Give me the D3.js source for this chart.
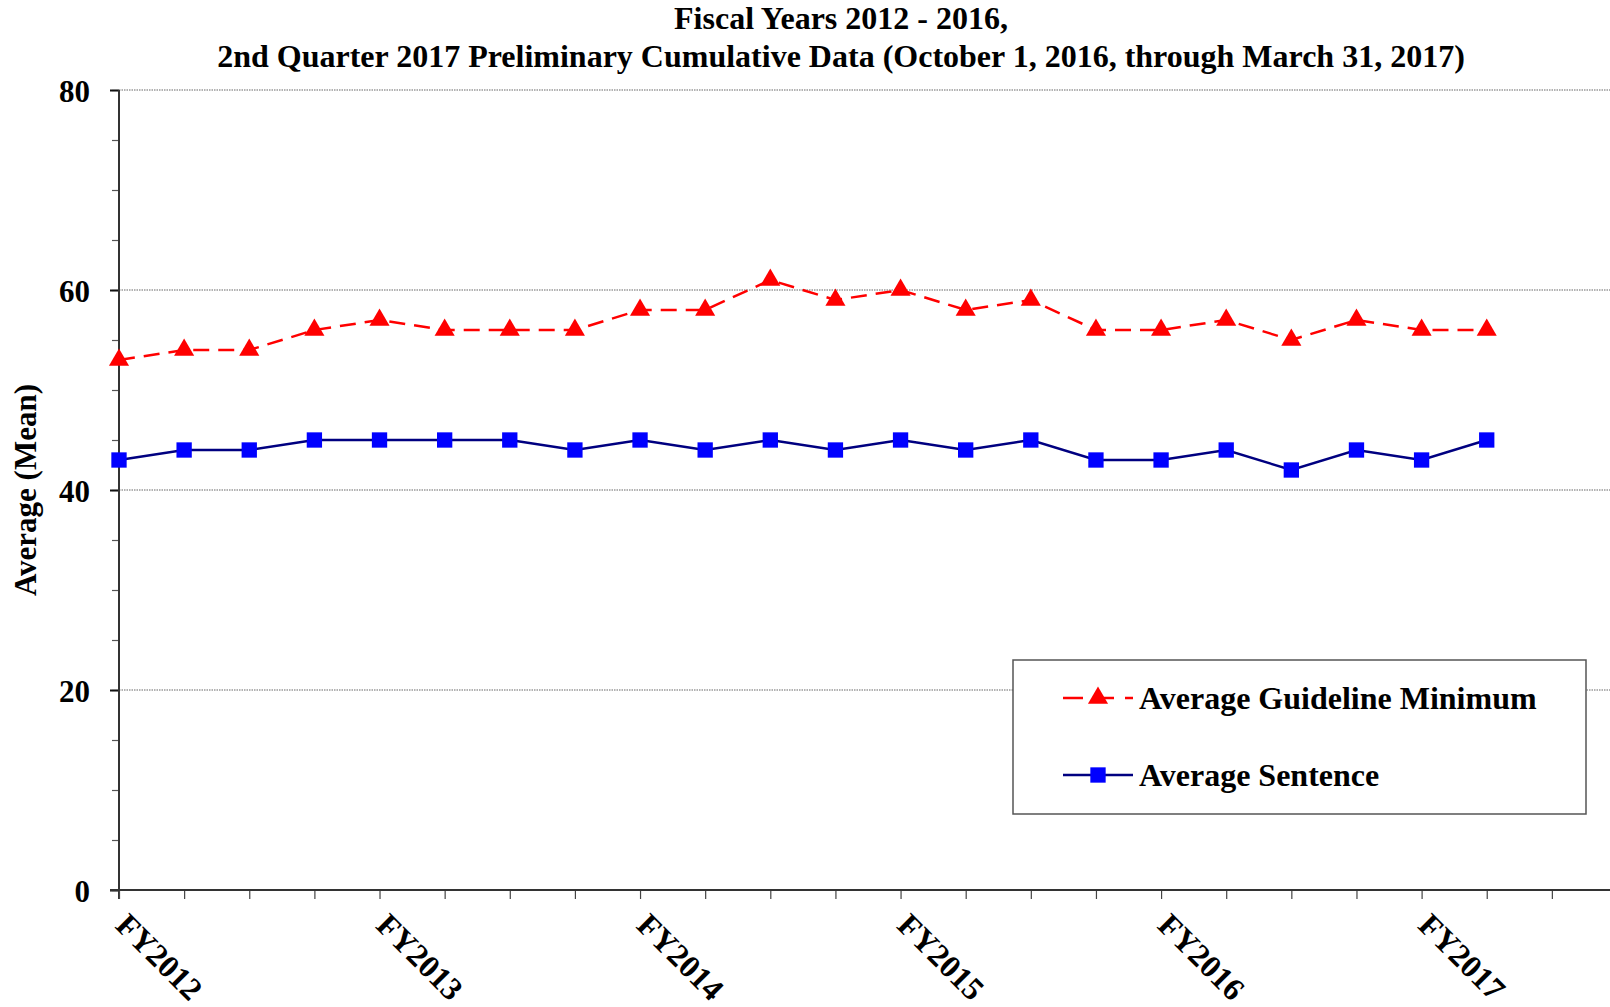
<!DOCTYPE html>
<html>
<head>
<meta charset="utf-8">
<script src="https://cdn.jsdelivr.net/npm/d3@7"></script>
<style>
  body { margin: 0; background: #fff; }
  text { font-family: "Liberation Serif", "Times New Roman", serif; font-weight: bold; fill: #000; }
</style>
</head>
<body>
<div id="chart"></div>
<script>
/////////////////////
// chart data      //
/////////////////////

let titleLines = [
    "Fiscal Years 2012 - 2016,",
    "2nd Quarter 2017 Preliminary Cumulative Data (October 1, 2016, through March 31, 2017)"
];
let quarters = ["FY2012 Q1", "FY2012 Q2", "FY2012 Q3", "FY2012 Q4",
    "FY2013 Q1", "FY2013 Q2", "FY2013 Q3", "FY2013 Q4",
    "FY2014 Q1", "FY2014 Q2", "FY2014 Q3", "FY2014 Q4",
    "FY2015 Q1", "FY2015 Q2", "FY2015 Q3", "FY2015 Q4",
    "FY2016 Q1", "FY2016 Q2", "FY2016 Q3", "FY2016 Q4",
    "FY2017 Q1", "FY2017 Q2"];
let guidelineMin = [53, 54, 54, 56, 57, 56, 56, 56, 58, 58, 61, 59, 60, 58, 59, 56, 56, 57, 55, 57, 56, 56];
let avgSentence = [43, 44, 44, 45, 45, 45, 45, 44, 45, 44, 45, 44, 45, 44, 45, 43, 43, 44, 42, 44, 43, 45];
let yearLabels = ["FY2012", "FY2013", "FY2014", "FY2015", "FY2016", "FY2017"];
let yTicks = [0, 20, 40, 60, 80];
let seriesNames = ["Average Guideline Minimum", "Average Sentence"];

let width = 1610, height = 1007;
let margin = { top: 90, left: 119, bottom: 117 };
let step = 65.13;
let slots = 23; // axis runs one slot past the last tick, off the page

let svg = d3.select("#chart").append("svg")
    .attr("width", width)
    .attr("height", height);

let x = d3.scaleLinear().domain([0, slots]).range([margin.left, margin.left + slots * step]);
let y = d3.scaleLinear().domain([0, 80]).range([height - margin.bottom, margin.top]);

// title
svg.append("g").selectAll("text")
    .data(titleLines)
    .enter().append("text")
    .attr("x", 841)
    .attr("y", function(d, i) { return 29 + i * 38 })
    .attr("text-anchor", "middle")
    .style("font-size", "32px")
    .text(function(d) { return d });

// dotted gridlines
svg.append("g").selectAll("line")
    .data(yTicks.filter(function(d) { return d > 0 }))
    .enter().append("line")
    .attr("x1", x(0)).attr("x2", width)
    .attr("y1", y).attr("y2", y)
    .attr("stroke", "#666")
    .attr("stroke-width", 1.2)
    .attr("stroke-dasharray", "1.5,1");

// minor y ticks
let yMinor = svg.append("g")
    .attr("transform", "translate(" + x(0) + ",0)")
    .call(d3.axisLeft(y).tickValues(d3.range(0, 81, 5)).tickSize(7).tickFormat(""));
yMinor.select(".domain").remove();
yMinor.selectAll("line").attr("stroke", "#555").attr("stroke-width", 1.2);

// major y axis
let yAx = svg.append("g")
    .attr("transform", "translate(" + x(0) + ",0)")
    .call(d3.axisLeft(y).tickValues(yTicks).tickSize(9).tickPadding(20));
yAx.select(".domain").remove();
yAx.selectAll("line").attr("stroke", "#111").attr("stroke-width", 2);
yAx.selectAll("text")
    .style("font-size", "31px")
    .attr("dy", "0.36em");

svg.append("line")
    .attr("x1", x(0)).attr("x2", x(0))
    .attr("y1", y(80)).attr("y2", y(0) + 9)
    .attr("stroke", "#333")
    .attr("stroke-width", 2);

// x axis
let xAx = svg.append("g")
    .attr("transform", "translate(0," + y(0) + ")")
    .call(d3.axisBottom(x).tickValues(d3.range(0, slots)).tickSize(9).tickFormat(""));
xAx.select(".domain").remove();
xAx.selectAll("line").attr("stroke", "#444").attr("stroke-width", 1.2);

svg.append("line")
    .attr("x1", x(0) - 9).attr("x2", width)
    .attr("y1", y(0)).attr("y2", y(0))
    .attr("stroke", "#333")
    .attr("stroke-width", 2);

svg.append("g").selectAll("text")
    .data(yearLabels)
    .enter().append("text")
    .attr("transform", function(d, i) {
        return "translate(" + (x(i * 4) - 5) + "," + (y(0) + 37) + ")rotate(45)";
    })
    .style("font-size", "32px")
    .text(function(d) { return d });

// y axis title
svg.append("text")
    .attr("transform", "translate(36," + ((y(0) + y(80)) / 2) + ")rotate(-90)")
    .attr("text-anchor", "middle")
    .style("font-size", "31px")
    .text("Average (Mean)");

// series
let line = d3.line()
    .x(function(d, i) { return x(i) })
    .y(function(d) { return y(d) });

svg.append("path")
    .attr("d", line(guidelineMin))
    .attr("fill", "none")
    .attr("stroke", "#ff0000")
    .attr("stroke-width", 2.5)
    .attr("stroke-dasharray", "16,9");

svg.append("path")
    .attr("d", line(avgSentence))
    .attr("fill", "none")
    .attr("stroke", "#000080")
    .attr("stroke-width", 2.5);

let tri = d3.symbol().type(d3.symbolTriangle).size(175);
let sq = d3.symbol().type(d3.symbolSquare).size(235);

svg.append("g").selectAll("path")
    .data(guidelineMin)
    .enter().append("path")
    .attr("d", tri)
    .attr("transform", function(d, i) { return "translate(" + x(i) + "," + y(d) + ")" })
    .attr("fill", "#ff0000");

svg.append("g").selectAll("path")
    .data(avgSentence)
    .enter().append("path")
    .attr("d", sq)
    .attr("transform", function(d, i) { return "translate(" + x(i) + "," + y(d) + ")" })
    .attr("fill", "#0000ff");

// legend
let legend = svg.append("g").attr("transform", "translate(1013,660)");
legend.append("rect")
    .attr("width", 573).attr("height", 154)
    .attr("fill", "#fff")
    .attr("stroke", "#555")
    .attr("stroke-width", 1.5);

let rows = legend.selectAll("g.row")
    .data(seriesNames)
    .enter().append("g")
    .attr("class", "row")
    .attr("transform", function(d, i) { return "translate(0," + (38 + i * 77) + ")" });

rows.append("line")
    .attr("x1", 50).attr("x2", 120)
    .attr("stroke", function(d, i) { return i === 0 ? "#ff0000" : "#000080" })
    .attr("stroke-width", 2.5)
    .attr("stroke-dasharray", function(d, i) { return i === 0 ? "20,11" : null });

rows.append("path")
    .attr("d", function(d, i) { return i === 0 ? tri() : sq() })
    .attr("transform", "translate(85,0)")
    .attr("fill", function(d, i) { return i === 0 ? "#ff0000" : "#0000ff" });

rows.append("text")
    .attr("x", 126)
    .attr("dy", "0.34em")
    .style("font-size", "32px")
    .text(function(d) { return d });
</script>
</body>
</html>
